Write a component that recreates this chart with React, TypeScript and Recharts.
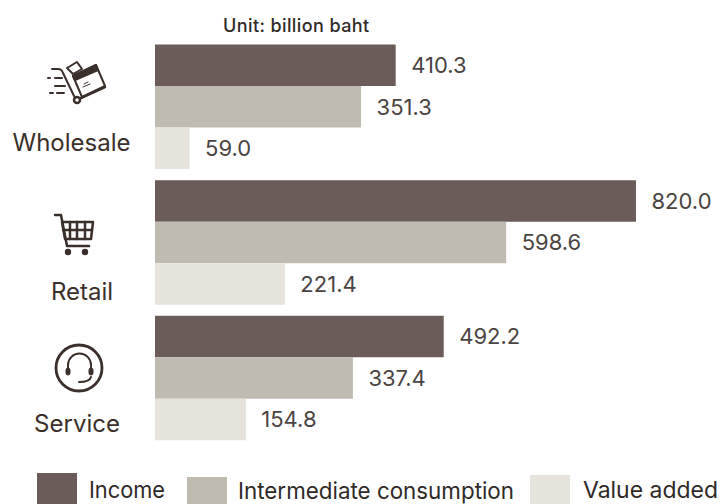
import * as React from "react"
import { Bar, BarChart, LabelList, XAxis, YAxis } from "recharts"

const categories = ["Wholesale", "Retail", "Service"]
const income = [410.3, 820.0, 492.2]
const intermediate = [351.3, 598.6, 337.4]
const valueAdded = [59.0, 221.4, 154.8]

const INK = "#3a2f2b"
const FONT = "Inter, sans-serif"

const data = categories.map((name, i) => ({
  name,
  income: income[i],
  intermediate: intermediate[i],
  valueAdded: valueAdded[i],
}))

function WholesaleIcon() {
  return (
    <g fill="none" stroke={INK} strokeWidth="2" strokeLinecap="round" strokeLinejoin="round">
      <path d="M52 69h6c3 0 4 1 5 4l12 25" />
      <path d="M81 98l24-11" strokeWidth="2.5" />
      <circle cx="77" cy="100" r="3" strokeWidth="2.5" />
      <path d="M73 76l23-11 9 21-23 11z" strokeWidth="2" />
      <path d="M73 76l23-11 2 5-23 10z" fill={INK} />
      <path d="M67 68l10-6 5 7-9 5z" />
      <path d="M83 87l7-3M84 84l4-2" strokeWidth="1" />
      <path d="M48 78h2M55 78h7M55 86h10M50 93h3M57 93h7" />
    </g>
  )
}

function RetailIcon() {
  return (
    <g fill="none" stroke={INK} strokeWidth="2" strokeLinecap="round" strokeLinejoin="round">
      <path d="M55 215h6l6 31h22" strokeWidth="2.5" />
      <path d="M62 222h31l-2 17H65z" strokeWidth="2.5" />
      <path d="M70 222v17M77 222v17M85 222v17M63 230h29" strokeWidth="2.5" />
      <circle cx="68" cy="252" r="2.2" fill={INK} />
      <circle cx="85" cy="252" r="2.2" fill={INK} />
    </g>
  )
}

function ServiceIcon() {
  return (
    <g fill="none" stroke={INK} strokeWidth="2.8" strokeLinecap="round">
      <circle cx="79" cy="368" r="23" />
      <path d="M68 370v-5a11.5 11.5 0 0 1 23 0v5" strokeWidth="2" />
      <path d="M91 377c-1 4-6 5-12 5" strokeWidth="2" />
      <rect x="66" y="368" width="4" height="7" rx="2" fill={INK} strokeWidth="1" />
      <rect x="89" y="368" width="4" height="7" rx="2" fill={INK} strokeWidth="1" />
    </g>
  )
}

const icons = [WholesaleIcon, RetailIcon, ServiceIcon]
const labelOffsets = [45, 58, 54]
const labelCenters = [71.5, 82, 77]

function CategoryTick({ y, payload, index }: any) {
  const Icon = icons[index]
  return (
    <g>
      <Icon />
      <text x={labelCenters[index]} y={y + labelOffsets[index]} textAnchor="middle" fontFamily={FONT} fontSize={24} fill={INK}>
        {payload.value}
      </text>
    </g>
  )
}

const legendItems = [
  { label: "Income", color: "#6b5b59", x: 37, y: 473, textX: 89, textY: 498, textW: 76 },
  { label: "Intermediate consumption", color: "#bfbbb0", x: 187, y: 477, textX: 238, textY: 499, textW: 276 },
  { label: "Value added", color: "#e5e3dc", x: 530, y: 475, textX: 583, textY: 498, textW: 135 },
]

const valueStyle = { fontFamily: FONT, fontSize: 22, fill: "#4a4442" }

export default function App() {
  return (
    <div style={{ position: "absolute", left: 0, top: 0, width: 726, height: 504, background: "#fff", overflow: "hidden" }}>
      <BarChart
        width={726}
        height={504}
        data={data}
        layout="vertical"
        barGap={0}
        barSize={41.5}
        margin={{ top: 38.5, right: 90, bottom: 58.5, left: 0 }}
      >
        <XAxis type="number" domain={[0, 820]} hide />
        <YAxis type="category" dataKey="name" width={155} axisLine={false} tickLine={false} tick={<CategoryTick />} interval={0} />
        <Bar dataKey="income" name="Income" fill="#6b5b59" isAnimationActive={false}>
          <LabelList dataKey="income" position="right" offset={15.5} formatter={(v: number) => v.toFixed(1)} style={valueStyle} />
        </Bar>
        <Bar dataKey="intermediate" name="Intermediate consumption" fill="#bfbbb0" isAnimationActive={false}>
          <LabelList dataKey="intermediate" position="right" offset={15.5} formatter={(v: number) => v.toFixed(1)} style={valueStyle} />
        </Bar>
        <Bar dataKey="valueAdded" name="Value added" fill="#e5e3dc" isAnimationActive={false}>
          <LabelList dataKey="valueAdded" position="right" offset={15.5} formatter={(v: number) => v.toFixed(1)} style={valueStyle} />
        </Bar>
        {legendItems.map((d) => (
          <g key={d.label}>
            <rect x={d.x} y={d.y} width={40} height={31} fill={d.color} />
            <text x={d.textX} y={d.textY} fontFamily={FONT} fontSize={23} textLength={d.textW} lengthAdjust="spacingAndGlyphs" fill="#2f2a28">
              {d.label}
            </text>
          </g>
        ))}
        <text x={223} y={32} fontFamily={FONT} fontSize={18} fontWeight={500} letterSpacing={0.4} fill="#2f2a28">
          Unit: billion baht
        </text>
      </BarChart>
    </div>
  )
}
